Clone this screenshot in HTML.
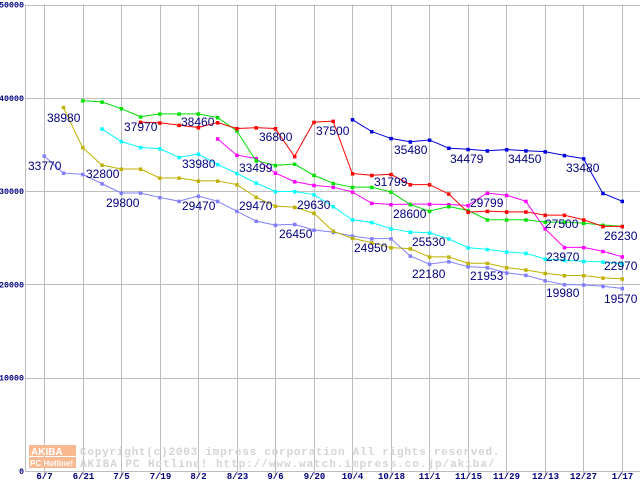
<!DOCTYPE html>
<html><head><meta charset="utf-8"><style>
html,body{margin:0;padding:0;background:#fff}
svg{display:block}
.yl{font:bold 8px "Liberation Mono",monospace;fill:#000080}
.xl{font:bold 9px "Liberation Mono",monospace;fill:#000080}
.vl{font:12px "Liberation Sans",sans-serif;fill:#000080}
.wm{font:bold 11px "Liberation Mono",monospace;fill:#d4d4d4;letter-spacing:0.5px}
</style></head><body>
<svg id="chart" width="640" height="480" xmlns="http://www.w3.org/2000/svg">
<g id="grid"></g>
<g id="wm">
<rect x="29" y="445" width="47" height="11" fill="#f8b890"/>
<rect x="29" y="457" width="47" height="11" fill="#f8b890"/>
<text x="31" y="455" style="font:bold 10px 'Liberation Sans',sans-serif;fill:#fff">AKIBA</text>
<text x="30" y="466" style="font:bold 8px 'Liberation Sans',sans-serif;fill:#fff">PC Hotline!</text>
<text class="wm" x="80" y="455" textLength="420">Copyright(c)2003 impress corporation All rights reserved.</text>
<text class="wm" x="80" y="467" textLength="415">AKIBA PC Hotline!  http://www.watch.impress.co.jp/akiba/</text>
</g>
<g id="series"></g>
<g id="labels"></g>
</svg>
<script>
const xLabels=["6/7","6/21","7/5","7/19","8/2","8/23","9/6","9/20","10/4","10/18","11/1","11/15","11/29","12/13","12/27","1/17"];
const yTicks=[0,10000,20000,30000,40000,50000];
const N=31;
const lavender=[33770,31940,31800,30800,29800,29800,29320,28920,29470,28920,27850,26790,26360,26450,25830,25600,25190,24900,24900,23050,22180,22450,21900,21800,21240,20990,20400,19980,19950,19800,19570];
const olive=[null,38980,34680,32800,32370,32370,31410,31410,31090,31090,30700,29350,28390,28280,27640,25720,24950,24470,23940,23830,22950,22950,22270,22270,21800,21560,21200,20950,20950,20700,20600];
const green=[null,null,39700,39560,38850,37970,38280,38280,38280,37890,36470,33270,32760,32900,31700,30840,30420,30420,29910,28570,27850,28350,27930,26930,26930,26930,26680,26680,26570,26360,26230];
const red=[null,null,null,null,null,37390,37320,37070,36820,37350,36710,36800,36710,33720,37390,37500,31880,31700,31799,30700,30700,29700,27750,27850,27780,27780,27430,27430,26930,26220,26220];
const magenta=[null,null,null,null,null,null,null,null,null,35610,33860,33499,31940,31020,30630,30420,29910,28710,28570,28600,28600,28570,28460,29799,29560,28920,25970,23970,23970,23550,22970];
const cyan=[null,null,null,36680,35330,34680,34550,33620,33980,32870,31910,30880,29960,29960,29630,28350,26930,26650,25970,25610,25530,24900,23940,23760,23480,23340,22730,22590,22480,22410,22230];
const blue=[null,null,null,null,null,null,null,null,null,null,null,null,null,null,null,null,37670,36390,35650,35290,35480,34610,34479,34330,34450,34330,34230,33830,33480,29770,28920];
const valueLabels=[["38980",1,-1],["33770",0,-1],["32800",2,-1],["29800",4,-1],["37970",5,0],["38460",8,0],["33980",8,-1],["29470",8,-1],["36800",11,0],["33499",11,-1],["29470",11,-1],["37500",15,0],["29630",14,-1],["26450",13,-1],["31799",18,0],["28600",19,-1],["24950",16,-1],["35480",20,0],["25530",20,-1],["22180",20,-1],["34479",22,0],["29799",23,-1],["21953",22,-1],["34450",25,0],["27500",26,-1],["23970",27,-1],["33480",28,0],["19980",27,-1],["26230",30,-1],["22970",30,-1],["19570",30,-1]];
const labelPos=[[47,117],[28,165],[86,173],[106,202],[124,126],[181,121],[182,163],[182,205],[259,136],[239,167],[239,205],[316,130],[297,204],[279,233],[374,181],[393,213],[354,247],[394,149],[412,241],[412,273],[450,158],[470,202],[470,275],[508,158],[545,223],[546,256],[566,167],[546,292],[604,235],[604,265],[604,298]];
const NS="http://www.w3.org/2000/svg";
const X0=25.5,Y0=471,Y50=4.5;
const xs=i=>44+i*(622-44)/(N-1);
const ys=v=>Y0-(v/50000)*(Y0-Y50);
function mk(tag,attrs,parent){const e=document.createElementNS(NS,tag);for(const k in attrs)e.setAttribute(k,attrs[k]);parent.appendChild(e);return e;}
const grid=document.getElementById('grid');
yTicks.forEach(t=>{
 const l=mk('line',{x1:X0,x2:640,y1:Math.round(ys(t))+0.5,y2:Math.round(ys(t))+0.5,stroke:'#bdbdbd','stroke-width':1},grid);
 
 
 const s=String(t);
 const tx=mk('text',{x:24,y:ys(t)+3,'text-anchor':'end',class:'yl',textLength:s.length*5,lengthAdjust:'spacingAndGlyphs'},grid);
 tx.textContent=s;
 
 
});
const ax=mk('line',{x1:X0,x2:X0,y1:Y50,y2:Y0,stroke:'#bdbdbd','stroke-width':1},grid);


xLabels.forEach((lab,k)=>{
 const x=Math.round(xs(k*2))+0.5;
 const l=mk('line',{x1:x,x2:x,y1:Y50,y2:Y0+4,stroke:'#bdbdbd','stroke-width':1},grid);
 
 
 const tx=mk('text',{x:x,y:479,'text-anchor':'middle',class:'xl'},grid);
 tx.textContent=lab;
 
 
});
const sg=document.getElementById('series');
const seriesList=[[lavender,'#8080ff','lavender'],[olive,'#c0b000','olive'],[cyan,'#00ffff','cyan'],[magenta,'#ff00ff','magenta'],[green,'#00e000','green'],[red,'#ff0000','red'],[blue,'#0000e0','blue']];
seriesList.forEach(([arr,col,nm])=>{
 const pts=[];arr.forEach((v,i)=>{if(v!=null)pts.push([xs(i),ys(v)]);});
 const pl=mk('polyline',{points:pts.map(p=>p.join(',')).join(' '),fill:'none',stroke:col,'stroke-width':1},sg);
 
 
 pts.forEach(p=>{
  const r=mk('rect',{x:p[0]-1.5,y:p[1]-1.5,width:3.5,height:3.5,fill:col},sg);
  
  
 });
});
const lg=document.getElementById('labels');
valueLabels.forEach((v,k)=>{
 const t=mk('text',{x:labelPos[k][0],y:labelPos[k][1]+5,class:'vl'},lg);
 t.textContent=v[0];
 
 
});
</script>
</body></html>
